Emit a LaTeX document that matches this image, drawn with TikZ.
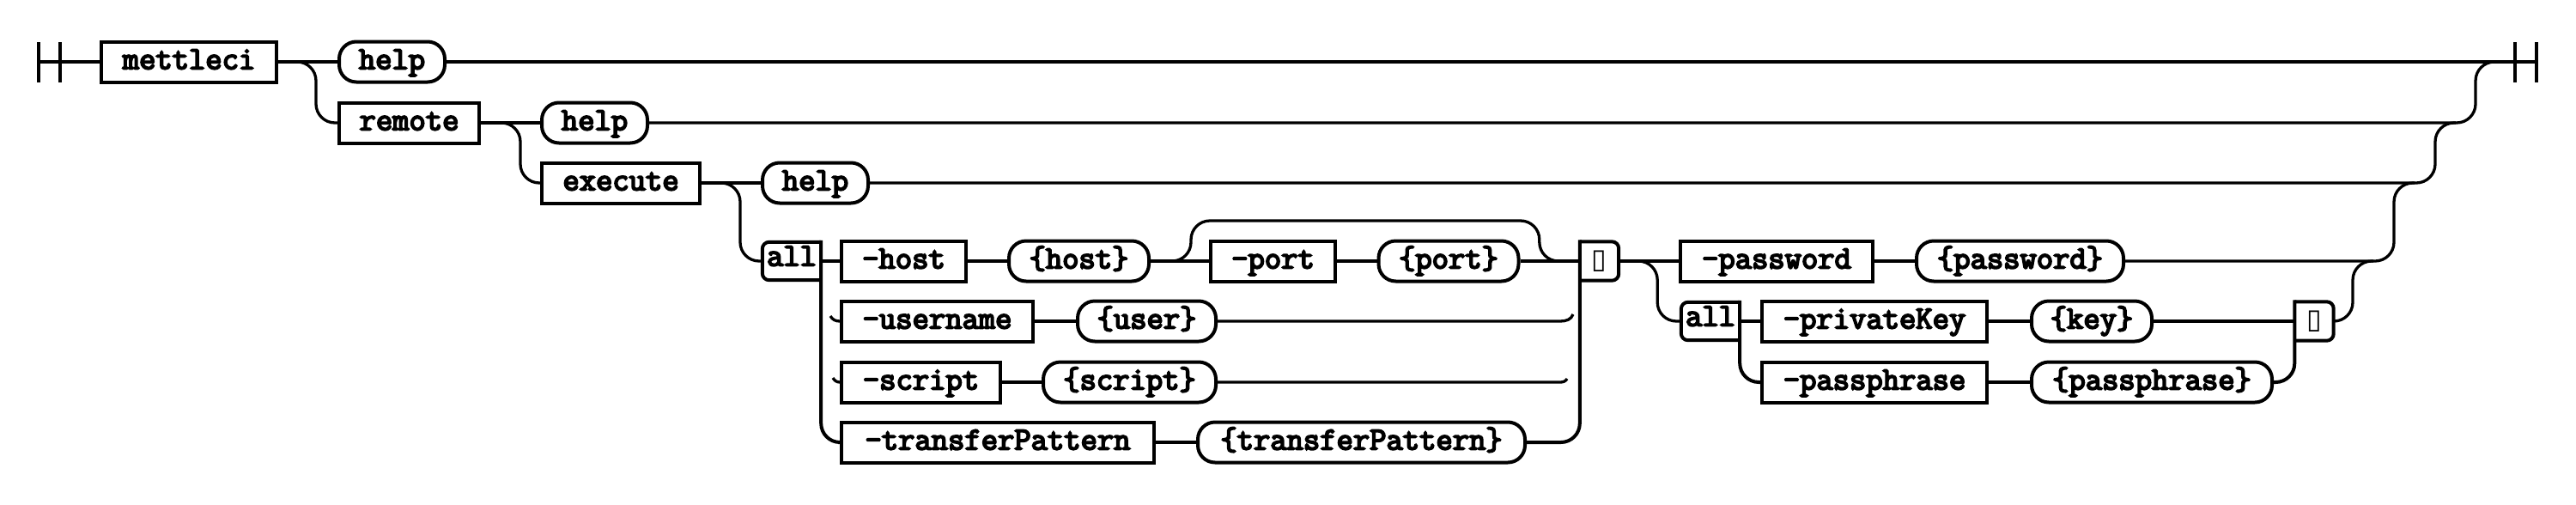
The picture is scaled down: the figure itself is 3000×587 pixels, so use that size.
\documentclass[tikz,border=0pt]{standalone}
\usepackage{fontspec}
\newfontfamily\symfont{DejaVu Sans}
\newfontfamily\rrfont{Latin Modern Mono}[FakeBold=5]
\usetikzlibrary{calc}
\newcommand{\rrtext}{\rrfont\fontsize{37.5}{42}\selectfont}
\begin{document}
\begin{tikzpicture}[x=1pt,y=-1pt,
  conn/.style={line width=3.3pt},
  edge/.style={line width=4pt,line cap=rect},
  nt/.style={draw,line width=4pt,rectangle,minimum height=47pt,inner sep=0pt,
    text height=24pt,text depth=7pt,font=\rrtext},
  tm/.style={nt,rounded corners=20pt},
  grp/.style={rectangle,minimum height=44pt,minimum width=68pt,inner sep=0pt,
    text height=18pt,text depth=7pt,font=\rrtext},
  endg/.style={rectangle,minimum height=45pt,minimum width=45pt,inner sep=0pt},
  grpborder/.style={line width=4pt,rounded corners=8pt}
]
\useasboundingbox (0,0) rectangle (3000,587);

% bars
\coordinate (s1) at (45,72);
\coordinate (e1) at (2929,72);
\coordinate (e2) at (2954,72);
\draw[line width=4pt] (45,49) -- (45,96) (70,49) -- (70,96);
\draw[line width=4pt] (2929,49) -- (2929,96) (2954,49) -- (2954,96);

% nodes
\node[nt,minimum width=204pt] (mettleci) at (220,72) {mettleci};
\node[tm,minimum width=123pt] (help0) at (456.5,72) {help};
\node[nt,minimum width=163pt] (remote) at (476.5,143) {remote};
\node[tm,minimum width=123pt] (help1) at (692.5,143) {help};
\node[nt,minimum width=184pt] (execute) at (723,213) {execute};
\node[tm,minimum width=123pt] (help2) at (949.5,213) {help};

\node[grp] (all) at (922,304) {all};
\node[nt,minimum width=145pt] (host) at (1052.5,304) {-host};
\node[tm,minimum width=163pt] (hostv) at (1256.5,304) {\{host\}};
\node[nt,minimum width=145pt] (port) at (1482.5,304) {-port};
\node[tm,minimum width=163pt] (portv) at (1687,304) {\{port\}};
\node[endg] (t1) at (1862.5,304) {\symfont\fontsize{32}{32}\selectfont ▯};
\node[nt,minimum width=224pt] (pw) at (2069,304) {-password};
\node[tm,minimum width=241pt] (pwv) at (2352.5,304) {\{password\}};

\node[nt,minimum width=223pt] (user) at (1091.5,374) {-username};
\node[tm,minimum width=161pt] (userv) at (1335.5,374) {\{user\}};
\node[nt,minimum width=185pt] (script) at (1072.5,445) {-script};
\node[tm,minimum width=201pt] (scriptv) at (1315.5,445) {\{script\}};
\node[nt,minimum width=364pt] (tp) at (1162,515) {-transferPattern};
\node[tm,minimum width=381pt] (tpv) at (1585.5,515) {\{transferPattern\}};

\node[grp] (all2) at (1992,374) {all};
\node[nt,minimum width=262pt] (pk) at (2183,374) {-privateKey};
\node[tm,minimum width=140pt] (key) at (2436,374) {\{key\}};
\node[endg] (t2) at (2695,374) {\symfont\fontsize{32}{32}\selectfont ▯};
\node[nt,minimum width=262pt] (pp) at (2183,445) {-passphrase};
\node[tm,minimum width=280pt] (ppv) at (2506,445) {\{passphrase\}};

% group borders
\draw[grpborder] (all.north east) -- (all.north west) -- (all.south west) -- (all.south east);
\draw[grpborder] (all2.north east) -- (all2.north west) -- (all2.south west) -- (all2.south east);
\draw[grpborder] (t1.north west) -- (t1.north east) -- (t1.south east) -- (t1.south west);
\draw[grpborder] (t2.north west) -- (t2.north east) -- (t2.south east) -- (t2.south west);

% top level
\draw[conn] (s1) -- (mettleci.west);
\draw[conn] (mettleci.east) -- (help0.west);
\draw[conn] (help0.east) -- (e2);
\draw[conn,rounded corners=22pt] (mettleci.east) -- ++(44,0) |- (remote.west);
\draw[conn] (remote.east) -- (help1.west);
\draw[conn,rounded corners=22pt] (remote.east) -- ++(46,0) |- (execute.west);
\draw[conn,rounded corners=22pt] (help1.east) -| (2883,72) -- ++(24,0);
\draw[conn] (execute.east) -- (help2.west);
\draw[conn,rounded corners=22pt] (execute.east) -- ++(45,0) |- (all.west);
\draw[conn,rounded corners=22pt] (help2.east) -| (2836,143) -- ++(24,0);

% first all group
\draw[conn] (all.east) -- (host.west);
\draw[edge,rounded corners=22pt] (all.north east) |- (tp.west);
\draw[conn] (host.east) -- (hostv.west);
\draw[conn] (hostv.east) -- (port.west);
\draw[conn] (port.east) -- (portv.west);
\draw[conn] (portv.east) -- (t1.west);
\draw[conn,rounded corners=22pt] (hostv.east) -- ++(47,0) -- ++(0,-47) -| ($(t1.west)+(-47,0)$) -- (t1.west);

\draw[conn] ([xshift=-11pt,yshift=6pt]user.west) to[out=-60,in=180] (user.west);
\draw[conn] (user.east) -- (userv.west);
\coordinate (ue) at (1832,366);
\draw[conn] (userv.east) -- (1817,374) to[out=0,in=-110] (ue);

\draw[conn] ([xshift=-8pt,yshift=5pt]script.west) to[out=-60,in=180] (script.west);
\draw[conn] (script.east) -- (scriptv.west);
\coordinate (se) at (1825,441);
\draw[conn] (scriptv.east) -- (1817,445) to[out=0,in=-120] (se);

\draw[conn] (tp.east) -- (tpv.west);
\draw[edge,rounded corners=22pt] (tpv.east) -| (t1.north west);

% password part
\draw[conn] (t1.east) -- (pw.west);
\draw[conn] (pw.east) -- (pwv.west);
\draw[conn,rounded corners=22pt] (pwv.east) -| (2788,213) -- ++(24,0);
\draw[conn,rounded corners=22pt] (t1.east) -- ++(45,0) |- (all2.west);

\draw[conn] (all2.east) -- (pk.west);
\draw[edge,rounded corners=22pt] (all2.north east) |- (pp.west);
\draw[conn] (pk.east) -- (key.west);
\draw[conn] (key.east) -- (t2.west);
\draw[conn] (pp.east) -- (ppv.west);
\draw[edge,rounded corners=22pt] (ppv.east) -| (t2.north west);
\draw[conn,rounded corners=22pt] (t2.east) -| (2740,304) -- ++(24,0);
\end{tikzpicture}
\end{document}
